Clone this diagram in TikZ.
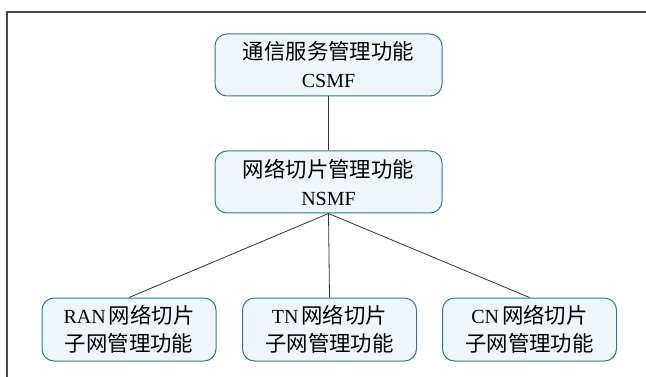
\documentclass[tikz,border=0pt]{standalone}
\usepackage{fontspec}
\setmainfont{Liberation Serif}
\newfontfamily\cjk[Scale=1.07]{Noto Sans CJK SC}
\definecolor{boxfill}{HTML}{EEF6FC}
\definecolor{boxline}{HTML}{2E7A96}
\definecolor{frameline}{HTML}{4A4A4A}
\definecolor{conn}{HTML}{333333}
\begin{document}
\begin{tikzpicture}[x=1pt,y=-1pt,
  fbox/.style={draw=boxline,fill=boxfill,line width=1pt,rounded corners=12pt,
    minimum width=227pt,minimum height=62pt,inner sep=0pt,align=center,
    font=\fontsize{20}{28}\selectfont},
  sbox/.style={fbox,minimum width=174pt,minimum height=63pt},
  link/.style={draw=conn,line width=0.8pt}]
\useasboundingbox (0,0) rectangle (646,377);
\draw[frameline,line width=1.5pt] (646,12) -- (7,12) -- (7,377);
\node[fbox] (csmf) at (328.5,65) {{\cjk 通信服务管理功能}\\CSMF};
\node[fbox] (nsmf) at (328.5,182) {{\cjk 网络切片管理功能}\\NSMF};
\node[sbox] (ran) at (129,329.5) {RAN\hspace{3pt}{\cjk 网络切片}\\{\cjk 子网管理功能}};
\node[sbox] (tn) at (329.5,329.5) {TN\hspace{3pt}{\cjk 网络切片}\\{\cjk 子网管理功能}};
\node[sbox] (cn) at (529.5,329.5) {CN\hspace{3pt}{\cjk 网络切片}\\{\cjk 子网管理功能}};
\draw[link] (csmf.south) -- (nsmf.north);
\draw[link] (nsmf.south) -- (ran.north);
\draw[link] (nsmf.south) -- (tn.north);
\draw[link] (nsmf.south) -- (cn.north);
\end{tikzpicture}
\end{document}
